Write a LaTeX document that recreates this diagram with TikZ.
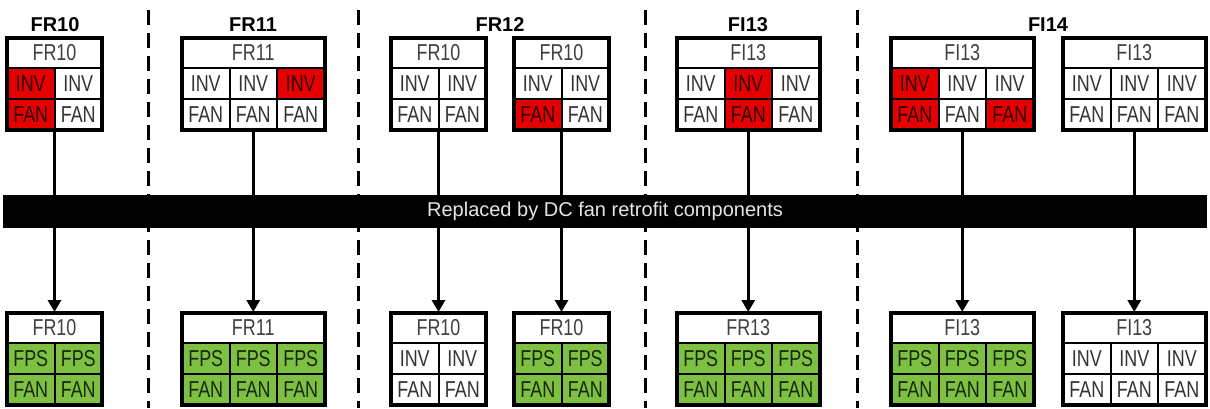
\documentclass[tikz,border=0pt]{standalone}
\usepackage{fontspec}
\setmainfont{Liberation Sans}
\newfontfamily\cellfont[FakeStretch=0.78]{Liberation Sans}
\usetikzlibrary{arrows.meta}
\definecolor{cred}{RGB}{228,0,0}
\definecolor{cgreen}{RGB}{125,192,66}

\begin{document}
\begin{tikzpicture}[x=1pt, y=-1pt,
			title_style/.style={font=\bfseries\fontsize{20}{20}\selectfont, inner sep=0pt},
			head_style/.style={draw, line width=2pt, fill=white, text=black!75, minimum height=30pt, inner sep=0pt, font=\cellfont\fontsize{23}{23}\selectfont},
			cell_style/.style={draw, line width=2pt, minimum width=47.5pt, minimum height=31pt, inner sep=0pt, font=\cellfont\fontsize{23}{23}\selectfont},
			frame_style/.style={line width=4pt},
			sep_style/.style={line width=3pt, dash pattern=on 15pt off 8pt},
			edge_style/.style={line width=3pt, -{Triangle[width=13pt,length=12pt]}},
			bar_style/.style={fill=black, text=white!90!black, minimum width=1204pt, minimum height=33pt, inner sep=0pt, font=\fontsize{20}{20}\selectfont}]
			
			\useasboundingbox (0,0) rectangle (1210,408);
			
			% separators and titles
			\foreach \x in {148,358,645,857}{
				\draw[sep_style] (\x,10) -- (\x,408);}
			\foreach \x/\t [count=\k] in {55/FR10,253/FR11,500/FR12,748/FI13,1048/FI14}{
				\node[title_style] (h\k) at (\x,25) {\t};}
			
			% units: name/left/top/columns/header/first row/cell colours
			\foreach \n/\x/\y/\c/\h/\a/\fl in {
				t1/7/38/2/FR10/INV/{cred,white,cred,white},
				t2/182/38/3/FR11/INV/{white,white,cred,white,white,white},
				t3/391/38/2/FR10/INV/{white,white,white,white},
				t4/514/38/2/FR10/INV/{white,white,cred,white},
				t5/677/38/3/FI13/INV/{white,cred,white,white,cred,white},
				t6/891/38/3/FI13/INV/{cred,white,white,cred,white,cred},
				t7/1063/38/3/FI13/INV/{white,white,white,white,white,white},
				b1/7/313/2/FR10/FPS/{cgreen,cgreen,cgreen,cgreen},
				b2/182/313/3/FR11/FPS/{cgreen,cgreen,cgreen,cgreen,cgreen,cgreen},
				b3/391/313/2/FR10/INV/{white,white,white,white},
				b4/514/313/2/FR10/FPS/{cgreen,cgreen,cgreen,cgreen},
				b5/677/313/3/FR13/FPS/{cgreen,cgreen,cgreen,cgreen,cgreen,cgreen},
				b6/891/313/3/FI13/FPS/{cgreen,cgreen,cgreen,cgreen,cgreen,cgreen},
				b7/1063/313/3/FI13/INV/{white,white,white,white,white,white}}{
				\pgfmathsetmacro\w{\c*47.5}
				\node[head_style, minimum width=\w pt] (\n) at ({\x+\w/2},{\y+15}) {\h};
				\foreach \f [count=\k from 0] in \fl {
					\pgfmathtruncatemacro\i{mod(\k,\c)}
					\pgfmathtruncatemacro\j{\k/\c}
					\ifnum\j=0 \def\t{\a}\else\def\t{FAN}\fi
					\node[cell_style, fill=\f, text=\f!20!black] (\n-\k) at ({\x+(\i+0.5)*47.5},{\y+30+(\j+0.5)*31}) {\t};}
				\draw[frame_style] (\x,\y) rectangle ++(\w,92);
			}
			
			\foreach \a in {1,...,7}{
				\draw[edge_style] (t\a.center |- t\a-3.south) -- (b\a.north);}
			
			\node[bar_style] (bar) at (605,211.5) {Replaced by DC fan retrofit components};
		\end{tikzpicture}
\end{document}
